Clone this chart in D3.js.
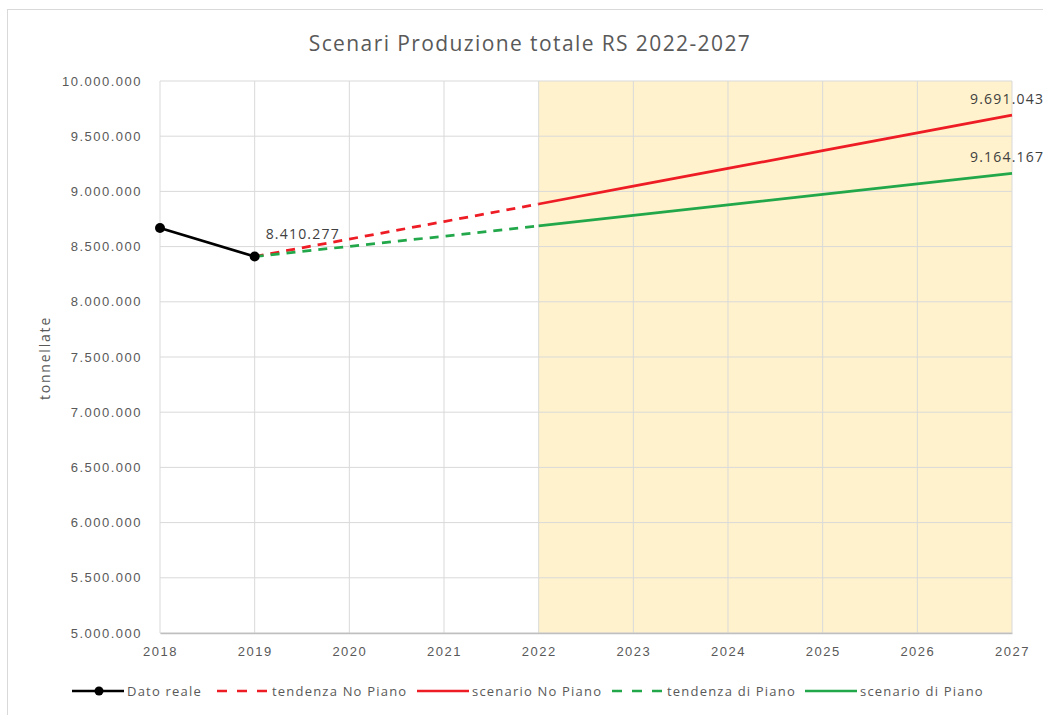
<!DOCTYPE html>
<html>
<head>
<meta charset="utf-8">
<script src="https://cdn.jsdelivr.net/npm/d3@7"></script>
<style>
  body { margin: 0; background: #fff; }
  svg { font-family: "Open Sans", "Noto Sans", sans-serif; }
</style>
</head>
<body>
<svg id="chart" width="1043" height="715"></svg>
<script>
// data
const years = [2018, 2019, 2020, 2021, 2022, 2023, 2024, 2025, 2026, 2027];
const yTicks = [5000000, 5500000, 6000000, 6500000, 7000000, 7500000, 8000000, 8500000, 9000000, 9500000, 10000000];
const datoReale = [[2018, 8668000], [2019, 8410277]];
const tendenzaNoPiano = [[2019, 8410277], [2020, 8568000], [2021, 8727000], [2022, 8886000]];
const scenarioNoPiano = [[2022, 8886000], [2023, 9047000], [2024, 9208000], [2025, 9369000], [2026, 9530000], [2027, 9691043]];
const tendenzaPiano = [[2019, 8410277], [2020, 8502000], [2021, 8594000], [2022, 8687000]];
const scenarioPiano = [[2022, 8687000], [2023, 8782000], [2024, 8878000], [2025, 8973000], [2026, 9069000], [2027, 9164167]];
const shadedYears = [2022, 2027];
const labels = [[2019, 8410277], [2027, 9691043], [2027, 9164167]];

const red = "#ee1c25";
const green = "#22a84a";

const legendItems = [
  {name: "Dato reale", colour: "#000000", dash: null, marker: true},
  {name: "tendenza No Piano", colour: red, dash: "10,10", marker: false},
  {name: "scenario No Piano", colour: red, dash: null, marker: false},
  {name: "tendenza di Piano", colour: green, dash: "10,10", marker: false},
  {name: "scenario di Piano", colour: green, dash: null, marker: false}
];

let margin = {"left": 160, "top": 81, "bottom": 82, "right": 31};
let width = 1043;
let height = 715;
let svg = d3.select("#chart");

let fmt = d3.formatLocale({decimal: ",", thousands: ".", grouping: [3], currency: ["", "€"]}).format(",d");

// frame
svg.append("rect")
  .attr("x", 7.5).attr("y", 9.5)
  .attr("width", width + 10).attr("height", height)
  .attr("fill", "#fff").attr("stroke", "#d9d9d9");

let x = d3.scaleLinear()
  .domain(d3.extent(years))
  .range([margin.left, width - margin.right]);
let y = d3.scaleLinear()
  .domain([5000000, 10000000])
  .range([height - margin.bottom, margin.top]);

// shaded forecast area
svg.append("rect")
  .attr("x", x(shadedYears[0]))
  .attr("y", y(10000000))
  .attr("width", x(shadedYears[1]) - x(shadedYears[0]))
  .attr("height", y(5000000) - y(10000000))
  .attr("fill", "#fff2cc");

// grid
let grid = svg.append("g");
grid.selectAll("line.h")
  .data(yTicks)
  .join("line")
  .attr("class", "h")
  .attr("x1", x(2018)).attr("x2", x(2027))
  .attr("y1", d => y(d)).attr("y2", d => y(d))
  .attr("stroke", "#d9d9d9").attr("stroke-width", 1);
grid.selectAll("line.v")
  .data(years)
  .join("line")
  .attr("class", "v")
  .attr("y1", y(5000000)).attr("y2", y(10000000))
  .attr("x1", d => x(d)).attr("x2", d => x(d))
  .attr("stroke", "#d9d9d9").attr("stroke-width", 1);

// axes
let axisX = svg.append("g")
  .attr("transform", `translate(0,${y(5000000)})`)
  .call(d3.axisBottom(x).tickValues(years).tickFormat(d3.format("d")).tickSize(0).tickPadding(14));
axisX.select(".domain").attr("stroke", "#bfbfbf").attr("stroke-width", 1.5);
axisX.selectAll("text").attr("fill", "#595959").attr("font-size", 13).attr("letter-spacing", 1.5);

let axisY = svg.append("g")
  .attr("transform", `translate(${margin.left},0)`)
  .call(d3.axisLeft(y).tickValues(yTicks).tickFormat(fmt).tickSize(0).tickPadding(18));
axisY.select(".domain").remove();
axisY.selectAll("text").attr("fill", "#595959").attr("font-size", 13).attr("letter-spacing", 1.5);

// lines
const line = d3.line()
  .x(d => x(d[0]))
  .y(d => y(d[1]));

let series = [
  {data: tendenzaNoPiano, colour: red, dash: "9,7"},
  {data: tendenzaPiano, colour: green, dash: "9,7"},
  {data: scenarioNoPiano, colour: red, dash: null},
  {data: scenarioPiano, colour: green, dash: null},
  {data: datoReale, colour: "#000000", dash: null}
];

svg.append("g")
  .attr("fill", "none")
  .attr("stroke-width", 2.75)
  .selectAll("path")
  .data(series)
  .join("path")
  .attr("stroke", d => d.colour)
  .attr("stroke-dasharray", d => d.dash)
  .attr("d", d => line(d.data));

svg.append("g").selectAll("circle")
  .data(datoReale)
  .join("circle")
  .attr("cx", d => x(d[0]))
  .attr("cy", d => y(d[1]))
  .attr("r", 5)
  .attr("fill", "#000");

// data labels
svg.append("g").selectAll("text")
  .data(labels)
  .join("text")
  .attr("x", d => d[0] === 2019 ? x(d[0]) + 11 : x(d[0]) - 42)
  .attr("y", d => d[0] === 2019 ? y(d[1]) - 18 : y(d[1]) - 11)
  .attr("font-size", 14)
  .attr("letter-spacing", 1.2)
  .attr("fill", "#404040")
  .text(d => fmt(d[1]));

// title
svg.append("text")
  .attr("x", 530).attr("y", 51)
  .attr("text-anchor", "middle")
  .attr("font-size", 21)
  .attr("letter-spacing", 1.4)
  .attr("fill", "#595959")
  .text("Scenari Produzione totale RS 2022-2027");

// y title
svg.append("text")
  .attr("transform", "translate(50,358) rotate(-90)")
  .attr("text-anchor", "middle")
  .attr("font-size", 14)
  .attr("letter-spacing", 1.8)
  .attr("fill", "#595959")
  .text("tonnellate");

// legend
let legendX = [72, 217, 417, 612, 805];
let legend = svg.append("g").attr("transform", "translate(0,691)");
let items = legend.selectAll("g")
  .data(legendItems)
  .join("g")
  .attr("transform", (d, i) => `translate(${legendX[i]},0)`);
items.append("line")
  .attr("x1", 0).attr("x2", 52)
  .attr("stroke", d => d.colour)
  .attr("stroke-width", 2.5)
  .attr("stroke-dasharray", d => d.dash);
items.filter(d => d.marker).append("circle")
  .attr("cx", 27).attr("r", 4.5).attr("fill", "#000");
items.append("text")
  .attr("x", 55).attr("dy", 4.5)
  .attr("font-size", 13)
  .attr("letter-spacing", 1.2)
  .attr("fill", "#595959")
  .text(d => d.name);
</script>
</body>
</html>
